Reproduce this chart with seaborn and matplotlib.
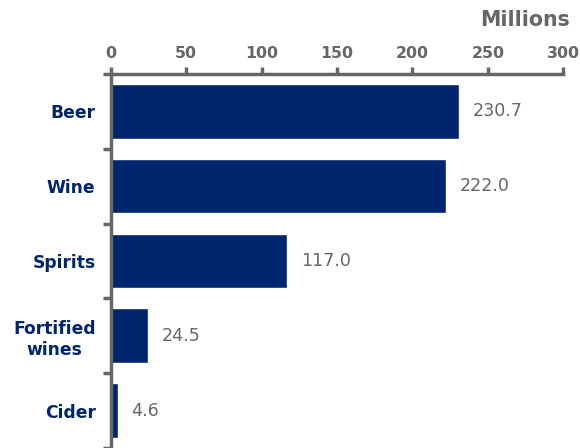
import matplotlib
matplotlib.use("Agg")
import matplotlib.pyplot as plt
import seaborn as sns
import pandas as pd
from matplotlib.ticker import FixedLocator

# Alcohol volumes by drink type (millions)
categories = ["Beer", "Wine", "Spirits", "Fortified\nwines", "Cider"]
values = [230.7, 222.0, 117.0, 24.5, 4.6]
value_labels = ["230.7", "222.0", "117.0", "24.5", "4.6"]
x_ticks = [0, 50, 100, 150, 200, 250, 300]

navy = "#00256f"
grey = "#666666"

sns.set_theme(style="white")
plt.rcParams["font.family"] = ["DejaVu Sans"]

df = pd.DataFrame({"category": categories, "value": values})

fig = plt.figure(figsize=(5.8, 4.48), dpi=100)
ax = fig.add_axes([0.191, 0.0, 0.780, 0.835])

sns.barplot(data=df, x="value", y="category", orient="h", color=navy,
            saturation=1, width=0.73, ax=ax)

ax.set_xlim(0, 300)
ax.set_ylim(4.5, -0.5)

# value axis along the top
ax.xaxis.tick_top()
ax.set_xticks(x_ticks)
ax.set_xticklabels([str(t) for t in x_ticks], fontsize=11.3, fontweight="bold", color=grey)
ax.tick_params(axis="x", which="major", direction="out", length=5, width=2.5,
               color=grey, pad=4)

# category axis: ticks at boundaries between bars
ax.set_yticks(range(len(categories)))
ax.set_yticklabels(categories, fontsize=12.3, fontweight="bold", color=navy,
                   linespacing=1.25, multialignment="center")
ax.yaxis.set_minor_locator(FixedLocator([i - 0.5 for i in range(len(categories) + 1)]))
ax.tick_params(axis="y", which="major", length=0, pad=11)
ax.tick_params(axis="y", which="minor", direction="out", length=6, width=2.5,
               color=grey, left=True)

ax.set_xlabel("")
ax.set_ylabel("")

for side in ["right", "bottom"]:
    ax.spines[side].set_visible(False)
for side in ["top", "left"]:
    ax.spines[side].set_visible(True)
    ax.spines[side].set_color(grey)
    ax.spines[side].set_linewidth(2.5)

for i, (v, lab) in enumerate(zip(values, value_labels)):
    ax.annotate(lab, xy=(v, i), xytext=(10, 0), textcoords="offset points",
                va="center", ha="left", fontsize=12.6, color=grey)

fig.text(0.983, 0.955, "Millions", ha="right", va="center", fontsize=14.8,
         fontweight="bold", color=grey)

fig.savefig("out.png", dpi=100)
